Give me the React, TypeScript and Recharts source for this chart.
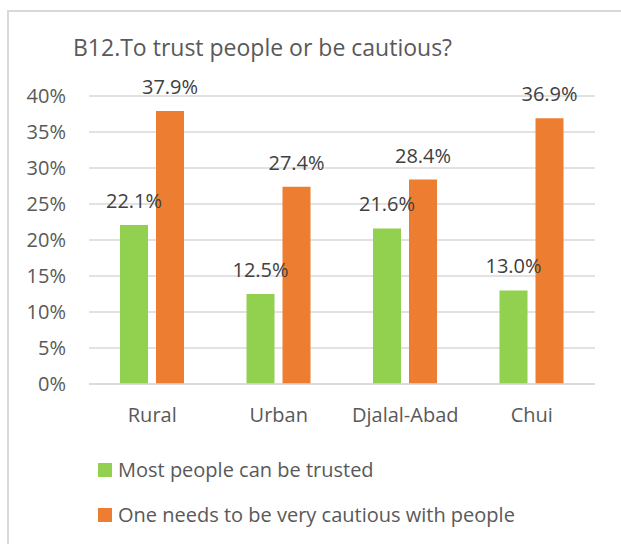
import { BarChart, Bar, XAxis, YAxis, CartesianGrid, LabelList } from 'recharts'

const categories = ['Rural', 'Urban', 'Djalal-Abad', 'Chui']
const trusted = [22.1, 12.5, 21.6, 13.0]
const cautious = [37.9, 27.4, 28.4, 36.9]
const yTicks = [0, 5, 10, 15, 20, 25, 30, 35, 40]
const seriesNames = ['Most people can be trusted', 'One needs to be very cautious with people']

const GREEN = '#92D050'
const ORANGE = '#ED7D31'
const FONT = '"Open Sans", sans-serif'

const data = categories.map((c, i) => ({
  name: c,
  trusted: trusted[i],
  cautious: cautious[i],
}))

function LegendBox() {
  const colors = [GREEN, ORANGE]
  return (
    <div style={{ position: 'absolute', left: 98, top: 447, fontFamily: FONT }}>
      {seriesNames.map((n, i) => (
        <div key={n} style={{ display: 'flex', alignItems: 'center', height: 45 }}>
          <span style={{ width: 14, height: 14, background: colors[i], display: 'inline-block', marginRight: 6 }} />
          <span style={{ fontSize: 20, color: '#595959', lineHeight: '20px' }}>{n}</span>
        </div>
      ))}
    </div>
  )
}

export default function App() {
  return (
    <div style={{ position: 'absolute', left: 0, top: 0, width: 621, height: 544, background: '#fff', overflow: 'hidden' }}>
      <div style={{
        position: 'absolute', left: 7, top: 10, width: 700, height: 600,
        borderTop: '2px solid #d9d9d9', borderLeft: '2px solid #d9d9d9',
      }} />
      <div style={{
        position: 'absolute', left: 73, top: 36, fontFamily: FONT, fontSize: 23,
        lineHeight: '23px', color: '#595959', whiteSpace: 'nowrap',
      }}>
        B12.To trust people or be cautious?
      </div>
      <div style={{ position: 'absolute', left: 0, top: 0 }}>
        <BarChart
          width={621}
          height={544}
          data={data}
          margin={{ top: 96, right: 26, bottom: 0, left: 0 }}
          barSize={28}
          barGap={8}
        >
          <CartesianGrid vertical={false} stroke="#d9d9d9" strokeWidth={1.5} />
          <XAxis
            dataKey="name"
            height={160}
            axisLine={{ stroke: '#d9d9d9', strokeWidth: 1.5 }}
            tickLine={false}
            tickSize={0}
            tickMargin={24}
            tick={{ fill: '#595959', fontSize: 20, fontFamily: FONT }}
          />
          <YAxis
            width={89}
            domain={[0, 40]}
            ticks={yTicks}
            tickFormatter={(v: number) => `${v}%`}
            axisLine={false}
            tickLine={false}
            tickSize={0}
            tickMargin={23}
            interval={0}
            tick={{ fill: '#595959', fontSize: 20, fontFamily: FONT }}
          />
          <Bar dataKey="trusted" fill={GREEN} isAnimationActive={false}>
            <LabelList
              dataKey="trusted"
              position="top"
              offset={17}
              formatter={(v: any) => `${Number(v).toFixed(1)}%`}
              style={{ fill: '#404040', fontSize: 20, fontFamily: FONT }}
            />
          </Bar>
          <Bar dataKey="cautious" fill={ORANGE} isAnimationActive={false}>
            <LabelList
              dataKey="cautious"
              position="top"
              offset={17}
              formatter={(v: any) => `${Number(v).toFixed(1)}%`}
              style={{ fill: '#404040', fontSize: 20, fontFamily: FONT }}
            />
          </Bar>
        </BarChart>
      </div>
      <LegendBox />
    </div>
  )
}
